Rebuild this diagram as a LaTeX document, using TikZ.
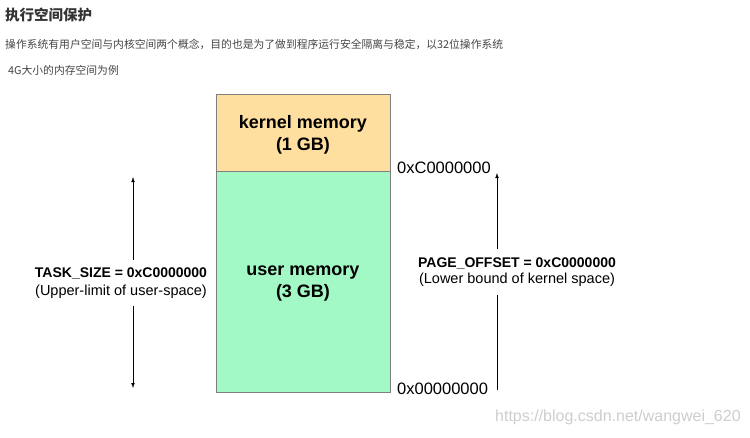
\documentclass[tikz,border=0pt]{standalone}
\usepackage{fontspec}
\setmainfont{Liberation Sans}
\newfontfamily\cjk{Noto Sans CJK SC}
\usetikzlibrary{arrows.meta,positioning}
\definecolor{fg}{HTML}{333333}
\definecolor{fgbody}{HTML}{444444}
\definecolor{surfkern}{HTML}{FFDF9F}
\definecolor{surfuser}{HTML}{A3F9C5}
\definecolor{bdim}{HTML}{7F7F7F}
\definecolor{wmark}{HTML}{CDCDCD}

\begin{document}
\begin{tikzpicture}[
  x=1pt,y=1pt,>={Latex[length=5pt,width=3.5pt]},
  every node/.append style={text=black},
  mem/.style={draw=bdim, minimum width=174pt, inner sep=0pt},
  memtxt/.style={align=center, inner sep=0pt, font=\fontsize{18}{22}\selectfont\bfseries},
  addr/.style={anchor=west, inner sep=0pt, font=\fontsize{16.5}{18}\selectfont},
  lbl/.style={align=center, inner sep=0pt, minimum height=46pt},
  txt/.style={anchor=west, inner sep=0pt, text=fgbody, font=\fontsize{10.8}{13}\selectfont\cjk},
]
\useasboundingbox (0,0) rectangle (750,-437);
% heading and intro
\node[txt, text=fg, font=\fontsize{14.5}{17}\selectfont\cjk\bfseries] (title) at (5,-15) {执行空间保护};
\node[txt] (intro1) at (5,-44) {操作系统有用户空间与内核空间两个概念，目的也是为了做到程序运行安全隔离与稳定，以32位操作系统};
\node[txt] (intro2) at (8,-70) {4G大小的内存空间为例};
% memory layout
\node[mem, fill=surfkern, minimum height=77pt] (kern) at (303,-132.5) {};
\node[mem, fill=surfuser, minimum height=221pt, below=0pt of kern] (user) {};
\node[memtxt] (kerntxt) at ([yshift=-2pt]kern.center) {kernel memory\\(1 GB)};
\node[memtxt] (usertxt) at ([yshift=-2pt]user.center) {user memory\\(3 GB)};
\node[addr] (ahi) at (397,-168) {0xC0000000};
\node[addr] (alo) at (397,-389) {0x00000000};
% limits
\coordinate (ttop) at (133,-177);
\coordinate (tbot) at (133,-388);
\node[lbl] (task) at (121,-283)
  {{\fontsize{14}{18}\selectfont\bfseries TASK\textunderscore SIZE = 0xC0000000}\\[5pt]{\fontsize{14.5}{17}\selectfont (Upper-limit of user-space)}};
\coordinate (ptop) at (497,-173);
\coordinate (pbot) at (497,-390);
\node[lbl, minimum height=45pt] (page) at (517,-272)
  {{\fontsize{14}{16}\selectfont\bfseries PAGE\textunderscore OFFSET = 0xC0000000}\\[3pt]{\fontsize{14.5}{16}\selectfont (Lower bound of kernel space)}};
\draw[->] (task.north -| ttop) -- (ttop);
\draw[->] (task.south -| tbot) -- (tbot);
\draw[->] (page.north -| ptop) -- (ptop);
\draw (page.south -| pbot) -- (pbot);
% watermark
\node[addr, text=wmark, font=\fontsize{16}{18}\selectfont] (wm) at (495,-417) {https://blog.csdn.net/wangwei\_620};
\end{tikzpicture}
\end{document}
